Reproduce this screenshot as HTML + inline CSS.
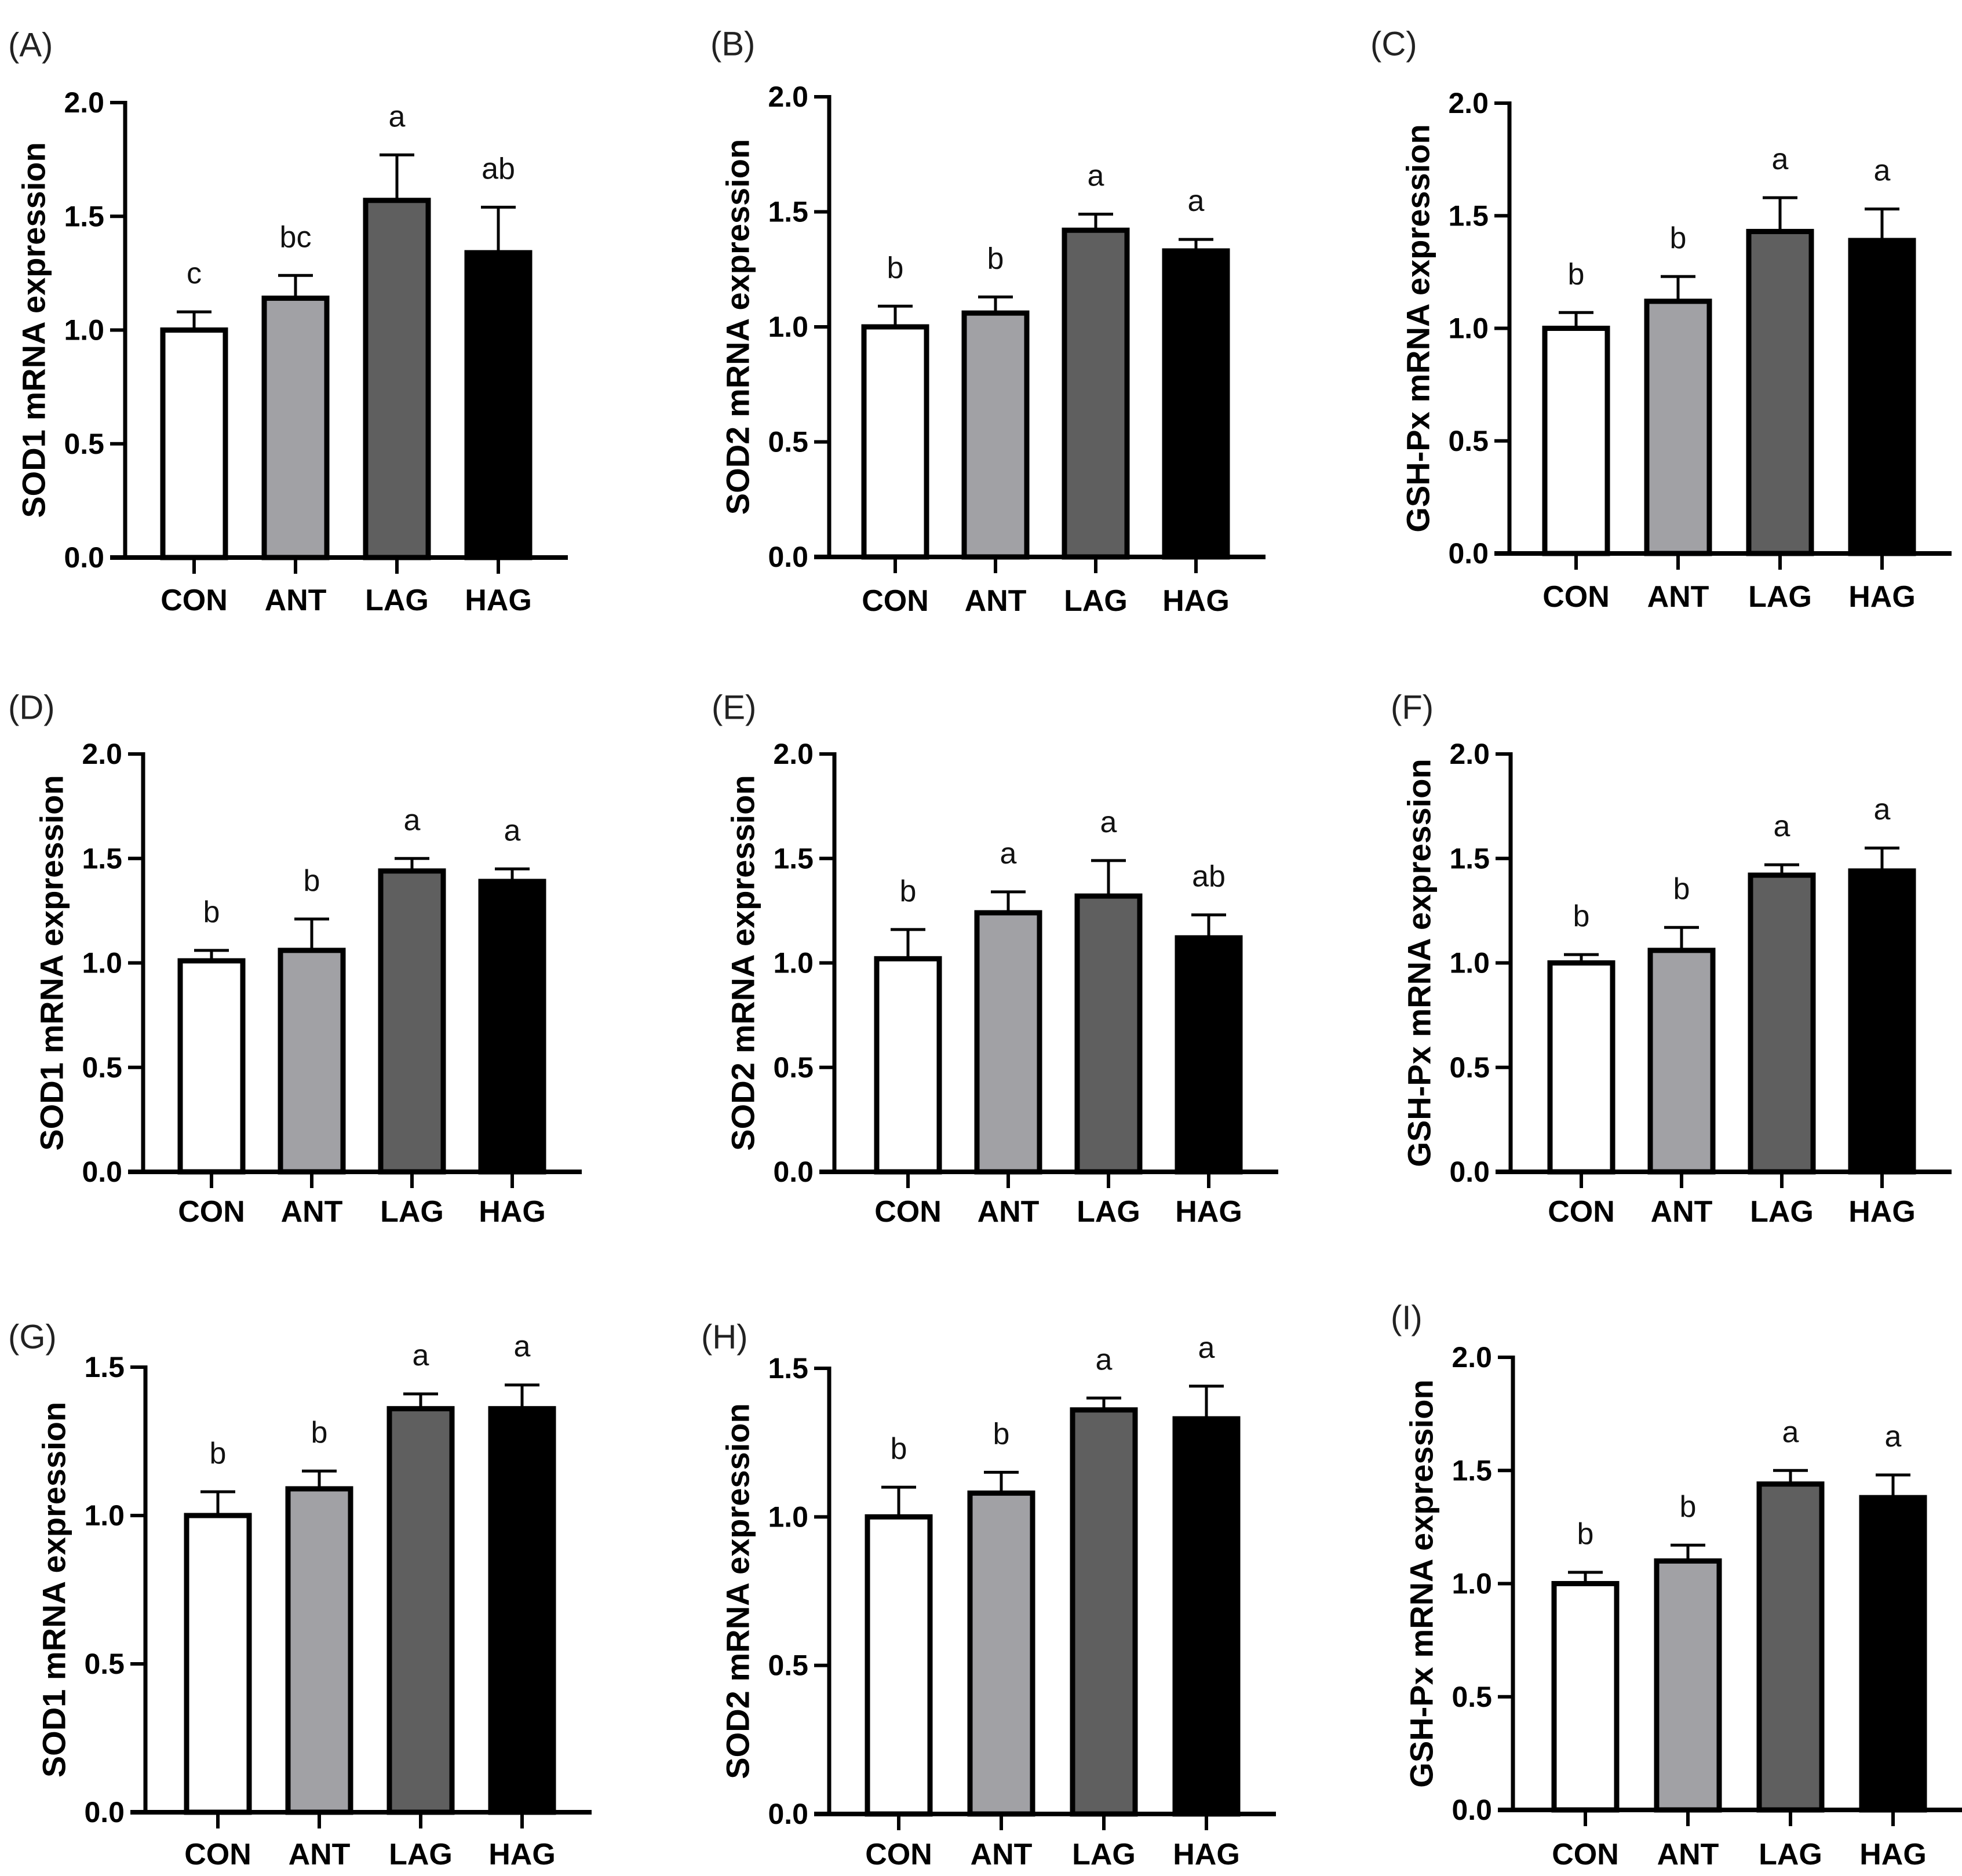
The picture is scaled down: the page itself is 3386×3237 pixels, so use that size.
<!DOCTYPE html>
<html><head><meta charset="utf-8"><style>
html,body{margin:0;padding:0;background:#fff;}
svg{display:block;font-family:"Liberation Sans",Arial,sans-serif;}
</style></head><body>
<svg id="fig" width="3386" height="3237" viewBox="0 0 3386 3237" xmlns="http://www.w3.org/2000/svg"></svg>
<script>
const categories = ["CON","ANT","LAG","HAG"];
const fills = ["#ffffff","#a1a1a5","#5f5f5f","#000000"];
const panelIds = ["A","B","C","D","E","F","G","H","I"];
const yTitles = ["SOD1 mRNA expression","SOD2 mRNA expression","GSH-Px mRNA expression","SOD1 mRNA expression","SOD2 mRNA expression","GSH-Px mRNA expression","SOD1 mRNA expression","SOD2 mRNA expression","GSH-Px mRNA expression"];
const valsA=[1.00,1.14,1.57,1.34], errA=[0.08,0.10,0.20,0.20], letA=["c","bc","a","ab"];
const valsB=[1.00,1.06,1.42,1.33], errB=[0.09,0.07,0.07,0.05], letB=["b","b","a","a"];
const valsC=[1.00,1.12,1.43,1.39], errC=[0.07,0.11,0.15,0.14], letC=["b","b","a","a"];
const valsD=[1.01,1.06,1.44,1.39], errD=[0.05,0.15,0.06,0.06], letD=["b","b","a","a"];
const valsE=[1.02,1.24,1.32,1.12], errE=[0.14,0.10,0.17,0.11], letE=["b","a","a","ab"];
const valsF=[1.00,1.06,1.42,1.44], errF=[0.04,0.11,0.05,0.11], letF=["b","b","a","a"];
const valsG=[1.00,1.09,1.36,1.36], errG=[0.08,0.06,0.05,0.08], letG=["b","b","a","a"];
const valsH=[1.00,1.08,1.36,1.33], errH=[0.10,0.07,0.04,0.11], letH=["b","b","a","a"];
const valsI=[1.00,1.10,1.44,1.38], errI=[0.05,0.07,0.06,0.10], letI=["b","b","a","a"];
const yMaxes=[2.0,2.0,2.0,2.0,2.0,2.0,1.5,1.5,2.0];
const allVals=[valsA,valsB,valsC,valsD,valsE,valsF,valsG,valsH,valsI];
const allErr=[errA,errB,errC,errD,errE,errF,errG,errH,errI];
const allLet=[letA,letB,letC,letD,letE,letF,letG,letH,letI];

// layout (pixels)
const layout=[
 {ax:216,top:177,bot:962,c0:335,step:175,lab:[14,78],cat:1036},
 {ax:1431,top:167,bot:961,c0:1545,step:173,lab:[1226,76],cat:1037},
 {ax:2605,top:178,bot:955,c0:2720,step:176,lab:[2365,76],cat:1030},
 {ax:247,top:1301,bot:2022,c0:365,step:173,lab:[14,1221],cat:2091},
 {ax:1440,top:1301,bot:2022,c0:1567,step:173,lab:[1228,1221],cat:2091},
 {ax:2607,top:1301,bot:2022,c0:2729,step:173,lab:[2400,1221],cat:2091},
 {ax:251,top:2359,bot:3127,c0:376,step:175,lab:[14,2307],cat:3200},
 {ax:1431,top:2361,bot:3130,c0:1551,step:177,lab:[1210,2307],cat:3200},
 {ax:2611,top:2342,bot:3123,c0:2736,step:177,lab:[2400,2274],cat:3200}
];
const NS="http://www.w3.org/2000/svg";
const svg=document.getElementById("fig");
function mk(tag,attrs,parent){const e=document.createElementNS(NS,tag);for(const k in attrs)e.setAttribute(k,attrs[k]);(parent||svg).appendChild(e);return e;}

panelIds.forEach((pid,p)=>{
 const L=layout[p], vals=allVals[p], errs=allErr[p], lets=allLet[p], ymax=yMaxes[p];
 const g=mk("g",{});
 
 
 const y=v=>L.bot-(v/ymax)*(L.bot-L.top);
 const x=i=>L.c0+i*L.step;
 const bw=108;
 // panel label
 const pl=mk("text",{x:L.lab[0],y:L.lab[1],"font-size":58,"dominant-baseline":"central",fill:"#222"},g);
 pl.textContent="("+pid+")";
 
 
 // y title
 const cy=(L.top+L.bot)/2, tx=L.ax-158;
 const yt=mk("text",{x:tx,y:cy,"font-size":56,"font-weight":"bold","text-anchor":"middle","dominant-baseline":"central",transform:`rotate(-90 ${tx} ${cy})`},g);
 yt.textContent=yTitles[p];
 
 
 // bars
 vals.forEach((v,i)=>{
  const e=errs[i], cx=x(i);
  const el=mk("line",{x1:cx,x2:cx,y1:y(v),y2:y(v+e),stroke:"#000","stroke-width":5},g);
  
  
  const ec=mk("line",{x1:cx-30,x2:cx+30,y1:y(v+e),y2:y(v+e),stroke:"#000","stroke-width":5},g);
  
  
  const r=mk("rect",{x:cx-bw/2,y:y(v),width:bw,height:L.bot-y(v),fill:fills[i],stroke:"#000","stroke-width":9},g);
  
  
  const lt=mk("text",{x:cx,y:y(v+e)-66,"font-size":52,"text-anchor":"middle","dominant-baseline":"central",fill:"#111"},g);
  lt.textContent=lets[i];
  
  
  const tk=mk("line",{x1:cx,x2:cx,y1:L.bot,y2:L.bot+28,stroke:"#000","stroke-width":6},g);
  
  
  const ct=mk("text",{x:cx,y:L.cat,"font-size":52,"font-weight":"bold","text-anchor":"middle","dominant-baseline":"central"},g);
  ct.textContent=categories[i];
  
  
 });
 // y ticks
 for(let t=0;t<=ymax+1e-9;t+=0.5){
  const yy=y(t);
  const tl=mk("line",{x1:L.ax-26,x2:L.ax,y1:yy,y2:yy,stroke:"#000","stroke-width":6},g);
  
  
  const tt=mk("text",{x:L.ax-36,y:yy,"font-size":50,"font-weight":"bold","text-anchor":"end","dominant-baseline":"central"},g);
  tt.textContent=t.toFixed(1);
  
  
 }
 // axes
 const ya=mk("line",{x1:L.ax,x2:L.ax,y1:L.top-3,y2:L.bot+4,stroke:"#000","stroke-width":7},g);
 
 
 const xa=mk("line",{x1:L.ax-26,x2:x(3)+120,y1:L.bot,y2:L.bot,stroke:"#000","stroke-width":8},g);
 
 
});
</script>
</body></html>
